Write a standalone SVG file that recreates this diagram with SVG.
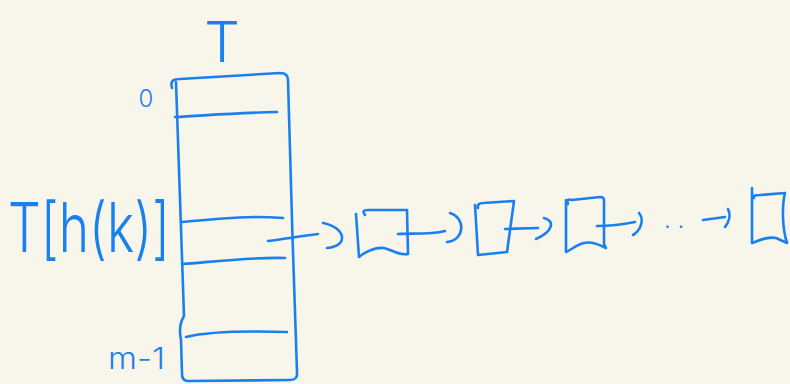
<svg xmlns="http://www.w3.org/2000/svg" width="790" height="384" viewBox="0 0 790 384">
<style>
.ink{fill:none;stroke:#1a80f0;stroke-width:2.6;stroke-linecap:round;stroke-linejoin:round}
.lbl{fill:#1a80f0;font-family:Inter,"Liberation Sans",Arial,sans-serif;font-weight:300}
</style>
<rect width="790" height="384" fill="#f8f5ea"/>
<g id="label-T"><text class="lbl" x="222" y="62" font-size="56" text-anchor="middle">T</text></g>
<g id="label-0"><text class="lbl" x="146" y="107" font-size="24" text-anchor="middle">0</text></g>
<g id="label-Thk"><text class="lbl" x="8" y="252" font-size="68" textLength="162" lengthAdjust="spacingAndGlyphs">T[h(k)]</text></g>
<g id="label-m1"><text class="lbl" x="108" y="369" font-size="30" textLength="57" lengthAdjust="spacingAndGlyphs">m-1</text></g>
<g id="table">
<path class="ink" d="M172,88 C170,80 174,79 180,79 L280,73 Q288,73 288,80 C290,170 294,280 297,372 Q298,380 290,380 L188,381 Q182,381 182,374 L181,340 Q178,326 184,316 L176,82"/>
<path class="ink" d="M175,117 C200,116 230,113 277,112"/>
<path class="ink" d="M181,222 C210,220 240,215 283,218"/>
<path class="ink" d="M183,264 C210,262 250,257 285,258"/>
<path class="ink" d="M186,337 C210,331 250,331 287,332"/>
</g>
<g id="node1">
<path class="ink" d="M365,215 Q361,210 368,210 L407,210 L408,254 C400,256 393,250 384,248 C375,247 365,252 359,257 L356,214"/>
</g>
<g id="node2">
<path class="ink" d="M478,208 Q477,203 483,203 L514,201 L507,252 L478,255 L475,205"/>
</g>
<g id="node3">
<path class="ink" d="M568,204 Q566,198 572,200 L600,197 Q604,197 604,200 L604,244 L606,248 C600,245 592,241 584,243 C576,245 571,250 566,252 L566,200"/>
</g>
<g id="node4">
<path class="ink" d="M752,188 L752,243 C760,240 768,236 776,238 L787,243 C782,228 782,205 785,193 L760,195 Q752,195 754,198"/>
</g>
<g id="dots"><text class="lbl" x="664" y="228" font-size="24">. .</text></g>
<g id="connectors">
<path class="ink" d="M268,241 C285,239 300,236 318,234"/>
<path class="ink" d="M323,223 C345,227 350,246 327,248"/>
<path class="ink" d="M398,234 C412,233 430,235 445,231"/>
<path class="ink" d="M450,213 C466,218 465,240 447,242"/>
<path class="ink" d="M505,229 L538,228"/>
<path class="ink" d="M544,218 C556,221 552,232 536,239"/>
<path class="ink" d="M597,226 C612,226 625,224 635,222"/>
<path class="ink" d="M639,213 C645,220 640,231 633,235"/>
<path class="ink" d="M703,220 L725,217"/>
<path class="ink" d="M728,209 C731,215 729,222 725,227"/>
</g>
</svg>
